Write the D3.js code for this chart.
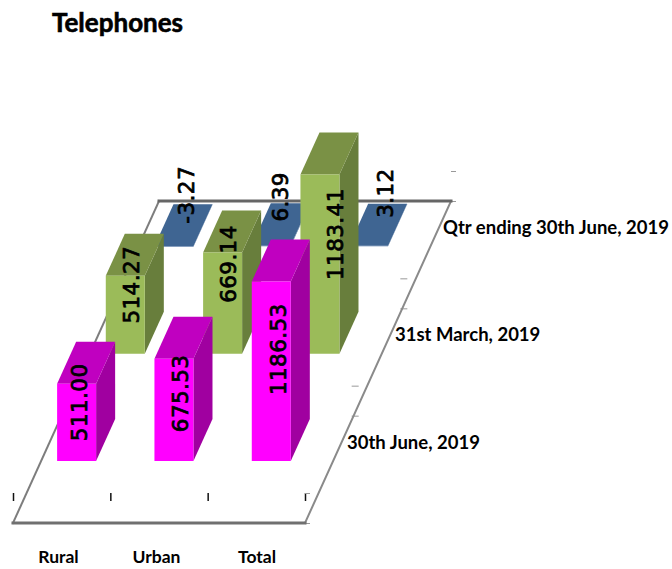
<!DOCTYPE html>
<html>
<head>
<meta charset="utf-8">
<script src="https://cdn.jsdelivr.net/npm/d3@7/dist/d3.min.js"></script>
<style>
html,body{margin:0;padding:0;background:#fff;}
svg{display:block;}
.cap{font-family:Lato,"Noto Sans",sans-serif;font-weight:700;fill:#000;}
.val{font-family:"DejaVu Sans",sans-serif;font-weight:400;fill:#000;stroke:#000;stroke-width:.75px;letter-spacing:.4px;}
</style>
</head>
<body>
<svg id="chart" width="672" height="569"></svg>
<script>
const title = "Telephones";
const categories = ["Rural", "Urban", "Total"];
const rows = ["30th June, 2019", "31st March, 2019", "Qtr ending 30th June, 2019"];
const june2018 = [511.00, 675.53, 1186.53];
const march2019 = [514.27, 669.14, 1183.41];
const june2019 = [-3.27, 6.39, 3.12];
const rowValues = [june2018, march2019, june2019];
const rowColours = [
  {front: "#ff00ff", top: "#c000c0", side: "#a000a0"},
  {front: "#9bbb59", top: "#7a9145", side: "#687e3c"},
  {front: "#41679a", top: "#3f6592", side: "#3f6592"}
];

// floor geometry
const floor = {left: 13, right: 305, front: 523, back: 201, skew: 146 / 322};
const barOffsetX = 16, barWidth = 39, barStartDepth = 62, barDepth = 42;
const x = d3.scaleBand().domain(categories).range([floor.left, floor.right]);
const depth = d3.scaleBand().domain(rows).range([0, floor.front - floor.back]);
const h = d3.scaleLinear().domain([0, 1200]).range([0, 181.6]);
const project = (px, d, up) => [px + d * floor.skew, floor.front - d - up];
const poly = pts => pts.map(p => p.join(",")).join(" ");

const svg = d3.select("#chart");

// tick marks on the two floor axes
const tickRaise = 30;
const tickG = svg.append("g");
[...categories.map(c => x(c)), floor.right].forEach(tx => {
  tickG.append("line").attr("x1", tx + .5).attr("x2", tx + .5)
    .attr("y1", floor.front - tickRaise).attr("y2", floor.front - 22)
    .attr("stroke", "#111").attr("stroke-width", 1.5);
});
[0, 1, 2, 3].forEach(i => {
  const d = i * depth.step();
  const px = floor.right + d * floor.skew;
  const py = floor.front - d;
  [0, tickRaise].forEach(up => {
    tickG.append("line").attr("x1", px - (i && i < 3 ? 2 : 0)).attr("x2", px + 5)
      .attr("y1", py - up + .5).attr("y2", py - up + .5)
      .attr("stroke", "#999").attr("stroke-width", 1);
  });
});

function drawRow(r) {
  const c = rowColours[r];
  const d0 = depth(rows[r]) + barStartDepth, d1 = d0 + barDepth;
  categories.forEach((cat, i) => {
    const v = rowValues[r][i];
    const xl = x(cat) + barOffsetX, xr = xl + barWidth;
    const hi = Math.max(h(v), 0), lo = Math.min(h(v), 0);
    const g = svg.append("g");
    g.append("polygon").attr("fill", c.side).attr("points", poly([
      project(xr, d0, lo), project(xr, d1, lo), project(xr, d1, hi), project(xr, d0, hi)]));
    g.append("polygon").attr("fill", c.top).attr("points", poly([
      project(xl, d0, hi), project(xr, d0, hi), project(xr, d1, hi), project(xl, d1, hi)]));
    g.append("polygon").attr("fill", c.front).attr("points", poly([
      project(xl, d0, lo), project(xr, d0, lo), project(xr, d0, hi), project(xl, d0, hi)]));
  });
}

// floor edges
const span = floor.front - floor.back;
const corner = {
  fl: project(floor.left, 0, 0), fr: project(floor.right, 0, 0),
  bl: project(floor.left, span, 0), br: project(floor.right, span, 0)
};
const edge = (a, b, w, col) => svg.append("line")
  .attr("x1", a[0]).attr("y1", a[1]).attr("x2", b[0]).attr("y2", b[1])
  .attr("stroke", col).attr("stroke-width", w).attr("stroke-linecap", "square");

// back row, then floor edges, then nearer rows
drawRow(2);
edge(corner.bl, corner.fl, 2, "#7d7d7d");
edge(corner.br, corner.fr, 2, "#8a8a8a");
edge(corner.bl, corner.br, 3, "#666");
edge(corner.fl, corner.fr, 3, "#707070");
drawRow(1);
drawRow(0);

// value labels: offsets from the bar's front-face centre
const labelNudge = [
  [{dx: 3, dy: -20}, {dx: 6.5, dy: -16.5}, {dx: 7, dy: -22}],
  [{dx: 6, dy: -30}, {dx: 5.5, dy: -39}, {dx: 16, dy: -30}],
  [{dx: 13, dy: -51.5}, {dx: 9, dy: -49}, {dx: 17, dy: -53}]
];
rowValues.forEach((vals, r) => {
  vals.forEach((v, i) => {
    const d0 = depth(rows[r]) + barStartDepth;
    const mid = project(x(categories[i]) + barOffsetX + barWidth / 2, d0, h(Math.max(v, 0)) / 2);
    const n = labelNudge[r][i];
    svg.append("text").attr("class", "val")
      .attr("transform", `translate(${mid[0] + n.dx},${mid[1] + n.dy}) rotate(-90)`)
      .attr("text-anchor", "middle").attr("dominant-baseline", "central")
      .attr("font-size", 21.5)
      .text(v.toFixed(2));
  });
});

// captions
svg.append("text").attr("class", "cap").attr("x", 52).attr("y", 32)
  .attr("font-size", 26).attr("stroke", "#000").attr("stroke-width", .6).text(title);

const catLabelX = [58.5, 156.5, 257];
categories.forEach((c, i) => {
  svg.append("text").attr("class", "cap").attr("x", catLabelX[i]).attr("y", 563)
    .attr("text-anchor", "middle").attr("font-size", 17.5).text(c);
});

const rowLabelPos = [[347, 449], [395, 341], [443, 234]];
rows.forEach((t, i) => {
  svg.append("text").attr("class", "cap")
    .attr("x", rowLabelPos[i][0]).attr("y", rowLabelPos[i][1])
    .attr("font-size", 18.5).text(t);
});
</script>
</body>
</html>
